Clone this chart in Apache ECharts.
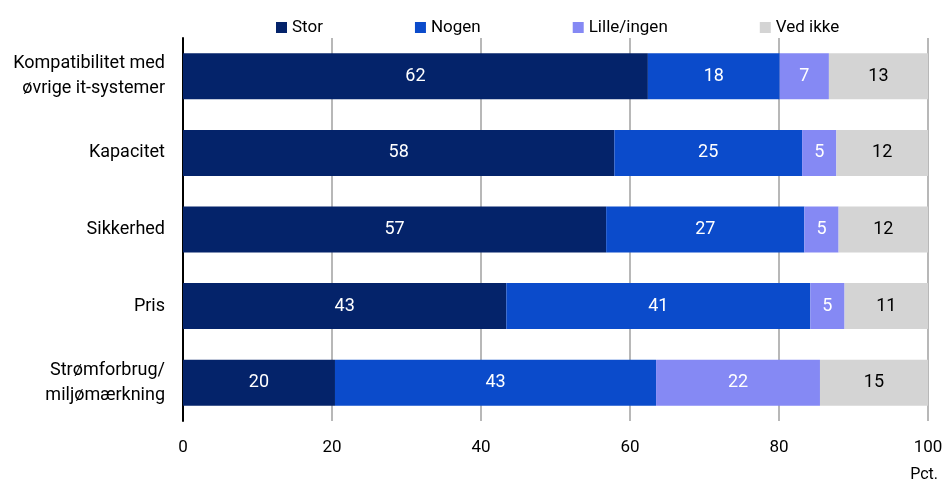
<!DOCTYPE html>
<html>
<head>
<meta charset="utf-8">
<script src="https://cdn.jsdelivr.net/npm/echarts@6/dist/echarts.min.js"></script>
<style>
html,body{margin:0;padding:0;background:#fff;}
#chart{width:946px;height:484px;}
</style>
</head>
<body>
<div id="chart"></div>
<script>
var categories = ['Kompatibilitet med\nøvrige it-systemer', 'Kapacitet', 'Sikkerhed', 'Pris', 'Strømforbrug/\nmiljømærkning'];
var seriesNames = ['Stor', 'Nogen', 'Lille/ingen', 'Ved ikke'];
var stor = [62.4, 57.9, 56.8, 43.4, 20.4];
var nogen = [17.7, 25.2, 26.6, 40.8, 43.1];
var lille = [6.6, 4.6, 4.6, 4.6, 22.0];
var vedIkke = [13.3, 12.3, 12.0, 11.2, 14.5];
var xTicks = [0, 20, 40, 60, 80, 100];
var unitLabel = 'Pct.';

var FONT = 'Roboto';
var colors = ['#04236a', '#0b4bcb', '#8589f4', '#d4d4d4'];
var labelColors = ['#ffffff', '#ffffff', '#ffffff', '#000000'];
var allData = [stor, nogen, lille, vedIkke];

var chart = echarts.init(document.getElementById('chart'), null, {renderer: 'canvas'});
var series = seriesNames.map(function (name, i) {
  return {
    name: name,
    type: 'bar',
    stack: 'total',
    barWidth: 46,
    data: allData[i],
    itemStyle: {color: colors[i]},
    label: {
      show: true,
      position: 'inside',
      color: labelColors[i],
      fontFamily: FONT,
      fontSize: 18,
      formatter: function (p) { return Math.round(p.value); }
    }
  };
});

chart.setOption({
  animation: false,
  backgroundColor: '#ffffff',
  color: colors,
  legend: {
    data: seriesNames,
    left: 271,
    top: 14,
    itemWidth: 11,
    itemHeight: 11,
    itemGap: 92,
    icon: 'rect',
    textStyle: {fontFamily: FONT, fontSize: 17, color: '#000'}
  },
  grid: {left: 183, right: 18, top: 38, bottom: 63, containLabel: false},
  xAxis: {
    type: 'value',
    min: 0,
    max: 100,
    interval: 20,
    axisLine: {show: false},
    axisTick: {show: false},
    splitLine: {show: true, lineStyle: {color: '#b8b8b8', width: 2}},
    axisLabel: {
      fontFamily: FONT, fontSize: 17, color: '#000', margin: 18,
      formatter: function (v) { return xTicks.indexOf(v) >= 0 ? String(v) : ''; }
    }
  },
  yAxis: {
    type: 'category',
    inverse: true,
    data: categories,
    axisLine: {show: true, lineStyle: {color: '#000', width: 2}},
    axisTick: {show: false},
    axisLabel: {fontFamily: FONT, fontSize: 18, color: '#000', margin: 18, lineHeight: 25, align: 'right'}
  },
  graphic: [{
    type: 'text',
    right: 8,
    top: 467,
    style: {text: unitLabel, fontFamily: FONT, fontSize: 16, fill: '#000'}
  }],
  series: series
});
</script>
</body>
</html>
